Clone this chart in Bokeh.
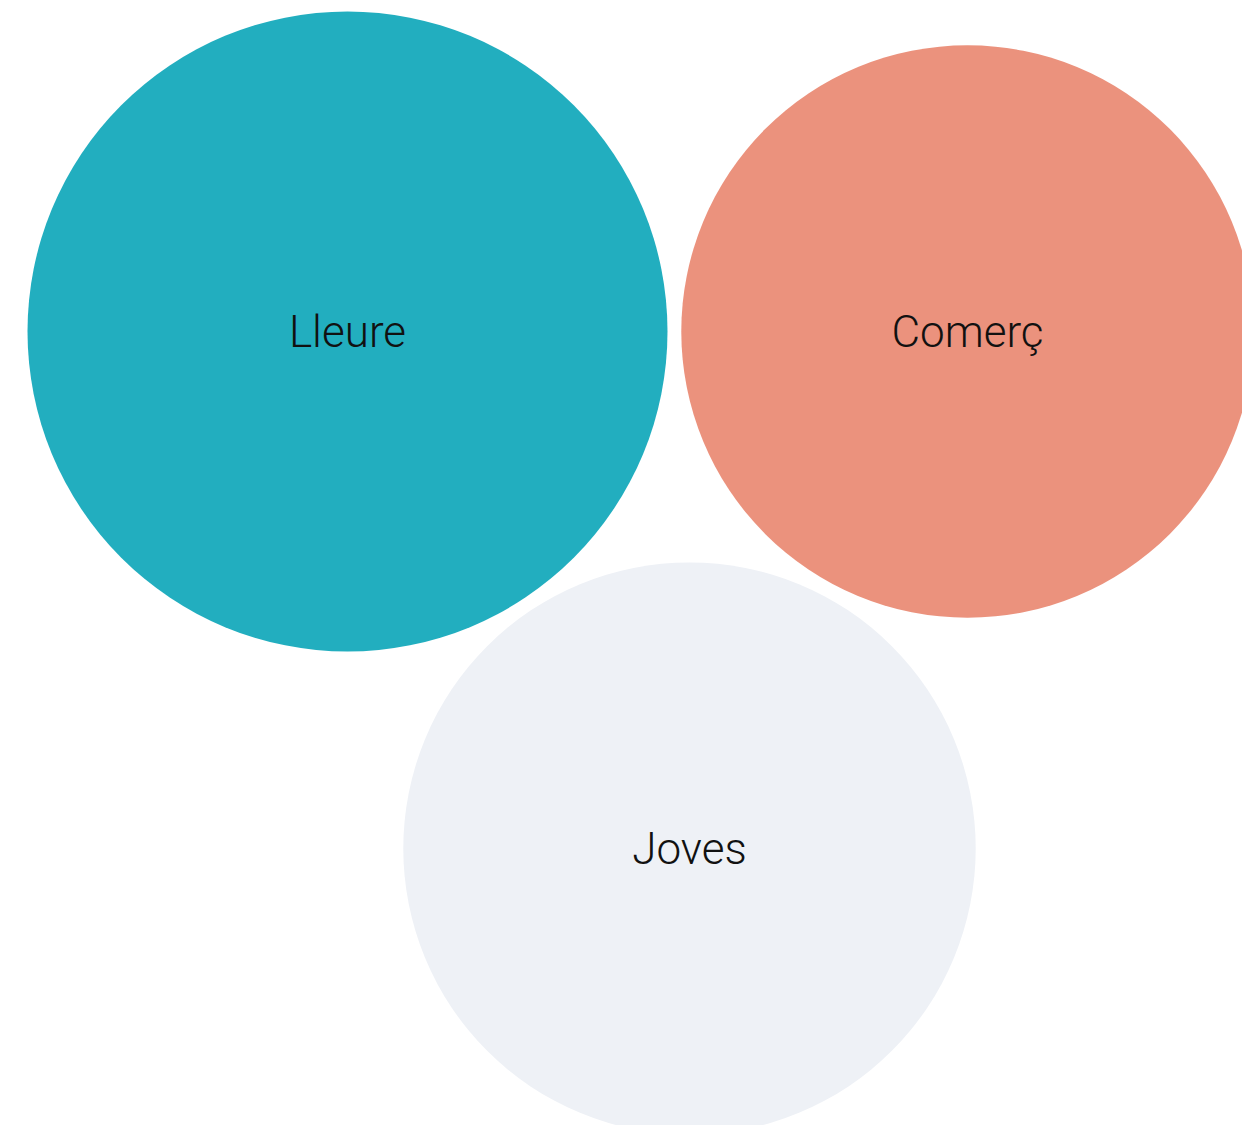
from bokeh.plotting import figure
from bokeh.models import ColumnDataSource, Range1d
from bokeh.core.properties import value
from bokeh.embed import file_html
from bokeh.resources import INLINE
import math

# Data
categories = ["Lleure", "Comerç", "Joves"]
values = [5, 4, 4]

# Layout (packed bubble centres, in plot pixel units) and styles
centers_x = [347, 967, 689]
centers_y = [331, 331, 848]
colors = ["#22AEBF", "#EB927D", "#EEF1F6"]

W, H = 1242, 1125
scale = 320 / math.sqrt(max(values))
radii = [scale * math.sqrt(v) for v in values]

src = ColumnDataSource(dict(cat=categories, val=values, x=centers_x, y=centers_y,
                            r=radii, color=colors))

p = figure(width=W, height=H, output_backend="svg", toolbar_location=None,
           x_range=Range1d(0, W), y_range=Range1d(H, 0), min_border=0)
p.axis.visible = False
p.grid.visible = False
p.outline_line_color = None
p.background_fill_color = "white"

p.circle(x="x", y="y", radius="r", fill_color="color", line_color=None, source=src)
p.text(x="x", y="y", text="cat", source=src, text_align="center", text_baseline="middle",
       text_font=value("'Roboto Light', Roboto"), text_font_size="44px", text_color="#111111")

open("out.html", "w").write(file_html(p, INLINE))
